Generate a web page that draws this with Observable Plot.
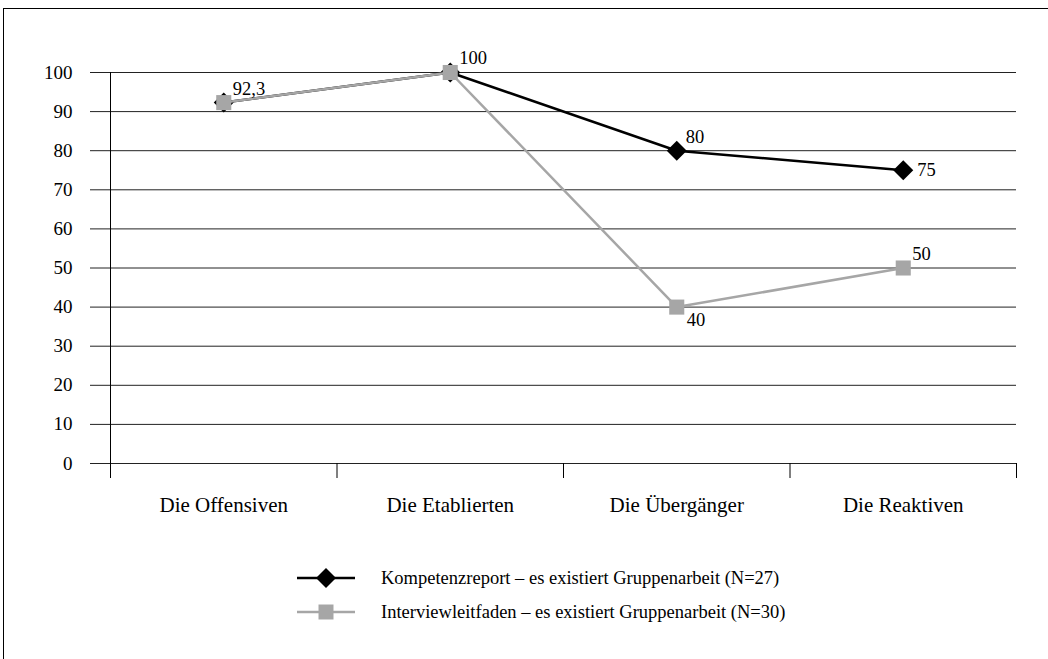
<!DOCTYPE html>
<html><head><meta charset="utf-8">
<script src="https://cdn.jsdelivr.net/npm/d3@7"></script>
<script src="https://cdn.jsdelivr.net/npm/@observablehq/plot@0.6"></script>
<style>
body{margin:0;background:#fff;font-family:"Liberation Serif","Times New Roman",serif;}
#wrap{position:relative;width:1048px;height:659px;overflow:hidden;background:#fff;}
#frame{position:absolute;left:3px;top:8px;width:1100px;height:700px;border-top:1px solid #000;border-left:1px solid #000;box-sizing:border-box;pointer-events:none;}
#chart{position:absolute;left:0;top:0;}
#chart svg, #chart svg text{font-family:"Liberation Serif","Times New Roman",serif !important;}
.leg{position:absolute;left:297px;display:flex;align-items:center;font-size:18.5px;color:#000;white-space:nowrap;}
.leg svg{margin-right:26px;}
</style></head>
<body>
<div id="wrap"><div id="chart"></div><div id="frame"></div></div>
<script>
const categories = ["Die Offensiven", "Die Etablierten", "Die Übergänger", "Die Reaktiven"];
const seriesNames = ["Kompetenzreport – es existiert Gruppenarbeit (N=27)", "Interviewleitfaden – es existiert Gruppenarbeit (N=30)"];
const kompetenzValues = [92.3, 100, 80, 75];
const interviewValues = [92.3, 100, 40, 50];
const kompetenzLabels = ["ne", "ne", "ne", "e"];
const interviewLabels = [null, null, "se", "ne"];
const yTicks = [0, 10, 20, 30, 40, 50, 60, 70, 80, 90, 100];
const bandEdges = [0, 1, 2, 3, 4];
const seriesColors = ["#000000", "#a6a6a6"];
const seriesSymbols = ["diamond2", "square"];

const rows = [];
[kompetenzValues, interviewValues].forEach((vals, s) => {
  const labs = s === 0 ? kompetenzLabels : interviewLabels;
  vals.forEach((v, i) => rows.push({series: seriesNames[s], s, i, pos: i + 0.5, cat: categories[i], value: v, place: labs[i]}));
});
const fmt = v => String(v).replace(".", ",");
const offsets = {ne: {dx: 9, dy: -14}, e: {dx: 14, dy: 0}, se: {dx: 10, dy: 13}};
const font = '"Liberation Serif","Times New Roman",serif';

const labelMarks = Object.entries(offsets).map(([k, o]) =>
  Plot.text(rows.filter(d => d.place === k), {x: "pos", y: "value", text: d => fmt(d.value), dx: o.dx, dy: o.dy, textAnchor: "start", fill: "#000", fontSize: 18.5, fontFamily: font}));

const seriesMarks = [];
[0, 1].forEach(s => {
  const data = rows.filter(d => d.s === s);
  seriesMarks.push(Plot.line(data, {x: "pos", y: "value", stroke: seriesColors[s], strokeWidth: 2.5}));
  seriesMarks.push(Plot.dot(data, {x: "pos", y: "value", symbol: seriesSymbols[s], fill: seriesColors[s], stroke: "none", r: s === 0 ? 9 : 8.5}));
});

const chart = Plot.plot({
  width: 1048,
  height: 545,
  marginLeft: 90,
  insetLeft: 20,
  marginRight: 32,
  marginTop: 72,
  marginBottom: 82,
  style: {fontFamily: font, fontSize: "19px", background: "transparent", color: "#000"},
  x: {domain: [0, 4], axis: null},
  y: {domain: [0, 100], axis: null},
  marks: [
    Plot.ruleY(yTicks, {stroke: "#222", strokeWidth: 1}),
    Plot.axisY(yTicks, {tickSize: 0, tickPadding: 18, fontSize: 19, fill: "#000", label: null, fontFamily: font}),
    Plot.ruleX([0], {stroke: "#000", strokeWidth: 1}),
    Plot.axisX(bandEdges, {tickSize: 15, tickFormat: () => "", stroke: "#000", label: null}),
    Plot.axisX(categories.map((c, i) => i + 0.5), {tickSize: 0, tickPadding: 34, tickFormat: t => categories[Math.floor(t)], fontSize: 21, fill: "#000", label: null, fontFamily: font}),
    ...seriesMarks,
    ...labelMarks
  ]
});
document.getElementById("chart").appendChild(chart);

const wrap = document.getElementById("wrap");
seriesNames.forEach((name, s) => {
  const div = document.createElement("div");
  div.className = "leg";
  div.style.top = (s === 0 ? 566 : 600) + "px";
  const sw = d3.create("svg").attr("width", 58).attr("height", 24);
  sw.append("line").attr("x1", 0).attr("x2", 58).attr("y1", 12).attr("y2", 12).attr("stroke", seriesColors[s]).attr("stroke-width", 2.5);
  const sym = s === 0 ? d3.symbolDiamond2 : d3.symbolSquare;
  sw.append("path").attr("transform", "translate(29,12)").attr("d", d3.symbol(sym, s === 0 ? 255 : 225)()).attr("fill", seriesColors[s]);
  div.appendChild(sw.node());
  const t = document.createElement("span");
  t.textContent = name;
  div.appendChild(t);
  wrap.appendChild(div);
});
</script>
</body></html>
